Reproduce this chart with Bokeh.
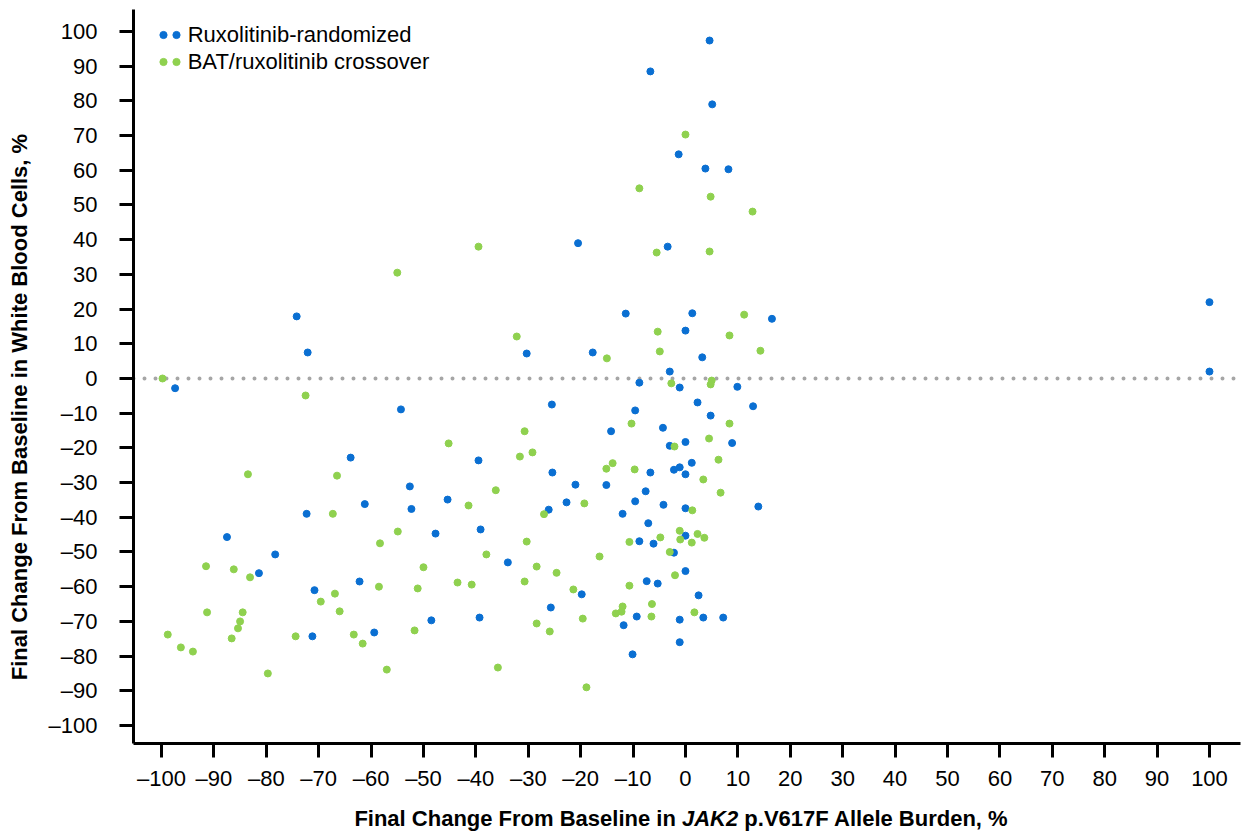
from bokeh.plotting import figure
from bokeh.layouts import column
from bokeh.models import (Range1d, Span, Legend, LegendItem, FixedTicker,
                          CustomJSTickFormatter, Div)
from bokeh.embed import file_html
from bokeh.resources import INLINE

# ---------------- data ----------------
SERIES_RUX = "Ruxolitinib-randomized"
SERIES_BAT = "BAT/ruxolitinib crossover"

rux_x = [4.6, -6.7, 5.1, -1.3, 3.8, 8.2, -20.5, -3.4, -74.2, -11.4, 1.3, 16.5, 0.0,
         -72.1, -30.3, -17.7, 3.2, -3.0, 100.0, 100.0, -97.4, -8.8, -1.1, 9.9, -54.3,
         -25.5, 2.3, 12.9, -9.6, 4.8, -14.2, -4.3, 0.0, 8.9, -3.0, -63.9, -39.5, 1.2,
         -1.1, -2.2, 0.0, -6.7, -25.4, -21.0, -15.1, -52.6, -7.6, -9.6, -22.7, -45.4,
         -61.2, -4.2, 13.9, 0.0, -26.1, -52.3, -72.3, -12.0, -7.1, -39.1, -47.7, -87.5,
         0.0, -8.8, -6.1, -2.2, -78.3, -33.9, 0.0, -81.4, -62.2, -7.4, -5.3, -70.8,
         -19.8, 2.5, -25.7, -39.3, -9.3, 3.4, 7.2, -48.5, -11.8, -59.4, -71.2, -1.1,
         -10.1, -1.1]
rux_y = [97.4, 88.5, 79.0, 64.6, 60.5, 60.3, 39.0, 38.0, 17.9, 18.7, 18.8, 17.2, 13.8,
         7.5, 7.2, 7.5, 6.1, 2.0, 22.0, 2.0, -2.8, -1.2, -2.6, -2.4, -8.9,
         -7.5, -6.9, -8.0, -9.2, -10.7, -15.2, -14.2, -18.3, -18.6, -19.4, -22.8, -23.6, -24.3,
         -25.6, -26.3, -27.6, -27.1, -27.1, -30.6, -30.7, -31.1, -32.5, -35.4, -35.7, -34.9,
         -36.2, -36.4, -36.9, -37.4, -37.8, -37.6, -39.0, -39.0, -41.7, -43.5, -44.7, -45.7,
         -45.3, -46.9, -47.6, -50.2, -50.7, -53.0, -55.5, -56.1, -58.5, -58.4, -59.1, -61.0,
         -62.2, -62.5, -66.0, -68.9, -68.6, -68.9, -68.9, -69.7, -71.1, -73.2, -74.3, -76.0,
         -79.5, -69.5]

bat_x = [0.0, -8.8, 4.8, 12.8, -39.5, -5.5, 4.6, -55.0, 11.2, -32.2, -5.3, 8.4, -4.9,
         14.3, -15.0, -99.8, -2.7, 4.8, 5.0, -72.5, -30.7, -45.2, -10.3, 8.4, 4.5, -2.1,
         6.3, -15.1, -13.9, -9.7, 3.4, 6.7, 1.3, -31.6, -29.2, -83.5, -66.5, -36.2, -41.4,
         -27.0, -19.3, -67.3, -54.9, -58.3, -30.3, -10.7, -1.1, 2.3, -4.8, 3.6, -1.0, 1.2,
         -3.0, -16.4, -38.0, -28.4, -50.0, -91.5, -86.2, -83.1, -24.6, -2.0, -43.5, -40.8,
         -30.7, -58.5, -51.1, -21.4, -10.7, -66.9, -69.6, -6.4, -12.0, -12.2, -13.3, 1.7,
         -6.5, -66.0, -91.3, -84.5, -85.0, -85.4, -51.7, -28.4, -19.6, -25.9, -98.8, -96.3,
         -94.0, -86.6, -74.4, -63.3, -61.6, -79.7, -57.0, -35.8, -18.9]
bat_y = [70.3, 54.8, 52.4, 48.1, 38.0, 36.3, 36.6, 30.5, 18.4, 12.1, 13.5, 12.4, 7.8,
         8.0, 5.8, 0.0, -1.4, -1.7, -0.6, -4.9, -15.2, -18.7, -13.0, -13.0, -17.3, -19.6,
         -23.4, -26.0, -24.4, -26.2, -29.1, -32.9, -38.0, -22.5, -21.3, -27.6, -28.0, -32.2, -36.6,
         -39.1, -36.0, -39.0, -44.1, -47.5, -47.0, -47.1, -43.9, -44.8, -45.8, -45.9, -46.4, -47.3,
         -50.0, -51.3, -50.7, -54.2, -54.4, -54.1, -55.0, -57.3, -56.0, -56.7, -58.8, -59.4,
         -58.5, -60.0, -60.5, -60.8, -59.7, -62.0, -64.3, -65.0, -65.7, -67.2, -67.7, -67.4,
         -68.6, -67.1, -67.4, -67.4, -70.0, -72.0, -72.6, -70.6, -69.2, -72.9, -73.8, -77.5,
         -78.7, -74.9, -74.3, -73.8, -76.4, -85.0, -83.9, -83.3, -89.0]

X_TICKS = [-100, -90, -80, -70, -60, -50, -40, -30, -20, -10, 0,
           10, 20, 30, 40, 50, 60, 70, 80, 90, 100]
Y_TICKS = [-100, -90, -80, -70, -60, -50, -40, -30, -20, -10, 0,
           10, 20, 30, 40, 50, 60, 70, 80, 90, 100]
REF_LINE = 0

Y_TITLE = "Final Change From Baseline in White Blood Cells, %"
X_TITLE_PARTS = ["Final Change From Baseline in", "JAK2", "p.V617F Allele Burden, %"]

# ---------------- style ----------------
BLUE = "#0A6FD2"
GREEN = "#8FD14F"
FONT = "Liberation Sans"
FS = "22px"

p = figure(width=1244, height=798, output_backend="svg", toolbar_location=None,
           x_range=Range1d(-105.34, 105.92), y_range=Range1d(-105.19, 106.34),
           min_border_left=133, min_border_right=4, min_border_top=9,
           min_border_bottom=55)
p.grid.visible = False
p.outline_line_color = None
p.background_fill_color = "white"

for ax in (p.xaxis[0], p.yaxis[0]):
    ax.axis_line_width = 3
    ax.axis_line_color = "black"
    ax.major_tick_line_width = 3
    ax.major_tick_line_color = "black"
    ax.major_tick_out = 14
    ax.major_tick_in = 0
    ax.minor_tick_line_color = None
    ax.major_label_text_font = FONT
    ax.major_label_text_font_size = FS
    ax.major_label_text_color = "black"
    ax.formatter = CustomJSTickFormatter(
        code="return tick < 0 ? '\\u2013' + (-tick) : '' + tick;")

p.xaxis[0].ticker = FixedTicker(ticks=X_TICKS)
p.yaxis[0].ticker = FixedTicker(ticks=Y_TICKS)
p.xaxis[0].major_label_standoff = 8
p.yaxis[0].major_label_standoff = 22

# trailing no-break spaces nudge the centred title toward the axis origin side
p.yaxis[0].axis_label = Y_TITLE + "\u00a0" * 10
p.yaxis[0].axis_label_text_font = FONT
p.yaxis[0].axis_label_text_font_size = FS
p.yaxis[0].axis_label_text_font_style = "bold"
p.yaxis[0].axis_label_text_color = "black"
p.yaxis[0].axis_label_standoff = 14

p.add_layout(Span(location=REF_LINE, dimension="width", line_color="#A6A6A6",
                  line_width=4, line_dash="0 11", line_cap="round", level="underlay"))

r_rux = p.scatter(rux_x, rux_y, size=7, fill_color=BLUE, line_color=BLUE)
r_bat = p.scatter(bat_x, bat_y, size=7, fill_color=GREEN, line_color=GREEN)

common = dict(glyph_width=18, glyph_height=27, label_height=27, spacing=0, padding=0,
              margin=0, border_line_color=None, background_fill_alpha=0,
              label_text_font=FONT, label_text_font_size=FS, label_text_color="black")
legA = Legend(items=[LegendItem(label=" ", renderers=[r_rux]),
                     LegendItem(label=" ", renderers=[r_bat])],
              location=(21.3, 667.6), label_standoff=0, **common)
legB = Legend(items=[LegendItem(label=SERIES_RUX, renderers=[r_rux]),
                     LegendItem(label=SERIES_BAT, renderers=[r_bat])],
              location=(33.7, 667.6), label_standoff=3, **common)
p.add_layout(legA)
p.add_layout(legB)

# x-axis title (with italic gene name) as an HTML block under the figure
xt = ('<div style="display:block;width:1244px;box-sizing:border-box;'
      'padding-left:108px;padding-top:5px;text-align:center;'
      "font-family:'Liberation Sans';font-size:22px;font-weight:bold;"
      'line-height:22px;color:black;white-space:nowrap">'
      f'{X_TITLE_PARTS[0]} <i>{X_TITLE_PARTS[1]}</i> {X_TITLE_PARTS[2]}</div>')
title_div = Div(text=xt, width=1244, height=38)

layout = column(p, title_div, spacing=0)
open("out.html", "w").write(file_html(layout, INLINE))
